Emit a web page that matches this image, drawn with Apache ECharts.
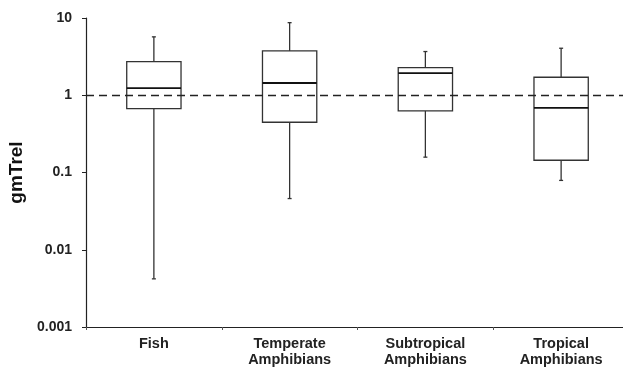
<!DOCTYPE html>
<html>
<head>
<meta charset="utf-8">
<script src="https://cdn.jsdelivr.net/npm/echarts@6/dist/echarts.min.js"></script>
<style>
  html, body { margin: 0; padding: 0; background: #fff; }
  #chart { width: 623px; height: 370px; }
</style>
</head>
<body>
<div id="chart"></div>
<script>
// groups along the x axis
var categories = ['Fish', 'Temperate\nAmphibians', 'Subtropical\nAmphibians', 'Tropical\nAmphibians'];
// box stats (log scale)
var whiskerLow  = [0.0042, 0.046, 0.158, 0.079];
var quart1      = [0.67, 0.447, 0.626, 0.144];
var medians     = [1.24, 1.44, 1.93, 0.685];
var quart3      = [2.73, 3.75, 2.28, 1.71];
var whiskerHigh = [5.7, 8.7, 3.68, 4.06];
var yTickLabels = ['0.001', '0.01', '0.1', '1', '10'];
var refValue = 1;

var boxData = categories.map(function(c, i){
    return [i, whiskerLow[i], quart1[i], medians[i], quart3[i], whiskerHigh[i]];
});

var font = '"Liberation Sans", Arial, sans-serif';

function renderBox(params, api){
    var i = api.value(0);
    var pLow = api.coord([i, api.value(1)]);
    var pQ1 = api.coord([i, api.value(2)]);
    var pMed = api.coord([i, api.value(3)]);
    var pQ3 = api.coord([i, api.value(4)]);
    var pHigh = api.coord([i, api.value(5)]);
    var band = api.coord([1, 1])[0] - api.coord([0, 1])[0];
    var hw = band * 0.2;
    var cx = pQ1[0];
    var lineStyle = { stroke: '#333', lineWidth: 1.3, fill: null };
    return {
        type: 'group',
        children: [
            { type: 'line', shape: { x1: cx, y1: pQ3[1], x2: cx, y2: pHigh[1] }, style: lineStyle },
            { type: 'line', shape: { x1: cx, y1: pQ1[1], x2: cx, y2: pLow[1] }, style: lineStyle },
            { type: 'line', shape: { x1: cx - 2, y1: pHigh[1], x2: cx + 2, y2: pHigh[1] }, style: lineStyle },
            { type: 'line', shape: { x1: cx - 2, y1: pLow[1], x2: cx + 2, y2: pLow[1] }, style: lineStyle },
            { type: 'rect', shape: { x: cx - hw, y: pQ3[1], width: hw * 2, height: pQ1[1] - pQ3[1] },
              style: { stroke: '#333', lineWidth: 1.3, fill: 'rgba(255,255,255,0)' } },
            { type: 'line', shape: { x1: cx - hw, y1: pMed[1], x2: cx + hw, y2: pMed[1] },
              style: { stroke: '#111', lineWidth: 1.8, fill: null } }
        ]
    };
}

var option = {
    animation: false,
    backgroundColor: '#fff',
    grid: { left: 86, top: 18, width: 543, height: 309, outerBoundsMode: 'none', containLabel: false },
    xAxis: {
        type: 'category',
        data: categories,
        boundaryGap: true,
        axisLine: { lineStyle: { color: '#222', width: 1.2 } },
        axisTick: { show: true, length: 3, lineStyle: { color: '#555' } },
        axisLabel: {
            color: '#222', fontWeight: 'bold', fontSize: 14.5, fontFamily: font,
            lineHeight: 16, margin: 9, interval: 0
        },
        splitLine: { show: false }
    },
    yAxis: {
        type: 'log',
        logBase: 10,
        min: 0.001,
        max: 10,
        name: 'gmTrel',
        nameLocation: 'middle',
        nameRotate: 90,
        nameGap: 60,
        nameTextStyle: { color: '#111', fontWeight: 'bold', fontSize: 19, fontFamily: font },
        axisLine: { show: true, lineStyle: { color: '#222', width: 1.2 } },
        axisTick: { show: true, length: 4, lineStyle: { color: '#222' } },
        minorTick: { show: false },
        splitLine: { show: false },
        axisLabel: {
            color: '#222', fontWeight: 'bold', fontSize: 14, fontFamily: font, margin: 14,
            formatter: function(v){
                var k = Math.round(Math.log10(v)) + 3;
                return yTickLabels[k] || '';
            }
        }
    },
    series: [
        {
            type: 'custom',
            renderItem: renderBox,
            data: boxData,
            encode: { x: 0, y: [1, 2, 3, 4, 5] },
            z: 2
        },
        {
            type: 'line',
            data: [],
            z: 5,
            markLine: {
                silent: true,
                symbol: 'none',
                label: { show: false },
                lineStyle: { color: '#222', width: 1.4, type: [8, 5] },
                data: [{ yAxis: refValue }]
            }
        }
    ]
};

var myCharts = echarts.init(document.getElementById('chart'));
myCharts.setOption(option);
</script>
</body>
</html>
